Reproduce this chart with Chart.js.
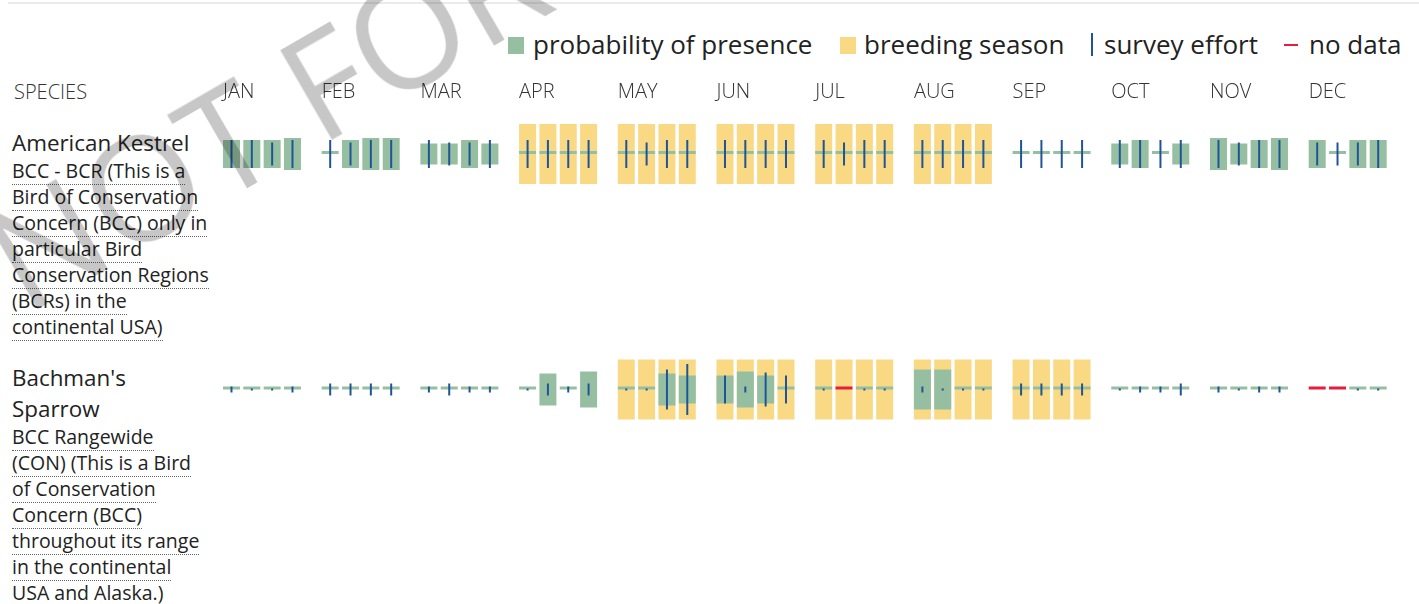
<!DOCTYPE html>
<html>
<head>
<meta charset="utf-8">
<title>Probability of presence</title>
<script src="https://cdn.jsdelivr.net/npm/chart.js@4.4.1/dist/chart.umd.min.js"></script>
<style>
  html, body { margin: 0; padding: 0; background: #fff; }
  body {
    width: 1419px; height: 604px; position: relative; overflow: hidden;
    font-family: 'Open Sans', sans-serif; color: #222;
  }
  #topRule { position: absolute; left: 8px; right: 0; top: 2px; height: 2px; background: #ebebeb; }
  #chartBox { position: absolute; left: 0; top: 0; width: 1419px; height: 604px; }

  /* legend */
  .lg { position: absolute; }
  .lg-text { top: 28px; font-size: 26px; line-height: 32px; white-space: nowrap; color: #222; }
  .lg-box { top: 37px; width: 16px; height: 17px; }
  .lg-vline { top: 33px; width: 2px; height: 23px; }
  .lg-hline { top: 44px; width: 14px; height: 2px; }

  .colHead { position: absolute; left: 14px; top: 78px; font-size: 20px; font-weight: 300; color: #333; }

  .species { position: absolute; left: 12px; width: 210px; }
  .species .name { font-size: 22.4px; line-height: 31px; }
  .species .desc { font-size: 19.5px; line-height: 26px; }
  .species .desc span { border-bottom: 1px dotted #666; }

  .watermark {
    position: absolute; left: -52px; top: 182px; transform-origin: 0 0;
    transform: rotate(-30deg); font-size: 145px; letter-spacing: 0;
    color: rgba(0, 0, 0, 0.22); white-space: nowrap; pointer-events: none;
  }
</style>
</head>
<body>
<div id="topRule"></div>

<div class="lg lg-box" style="left:508px;background:#96bfa2"></div>
<div class="lg lg-text" style="left:533px">probability of presence</div>
<div class="lg lg-box" style="left:840px;background:#fad985"></div>
<div class="lg lg-text" style="left:864px">breeding season</div>
<div class="lg lg-vline" style="left:1091px;background:#1f5597"></div>
<div class="lg lg-text" style="left:1104px">survey effort</div>
<div class="lg lg-hline" style="left:1284px;background:#e41e3c"></div>
<div class="lg lg-text" style="left:1309px">no data</div>

<div class="colHead">SPECIES</div>

<div class="species" style="top:127px">
  <div class="name">American Kestrel</div>
  <div class="desc">
    <span>BCC - BCR (This is a</span><br>
    <span>Bird of Conservation</span><br>
    <span>Concern (BCC) only in</span><br>
    <span>particular Bird</span><br>
    <span>Conservation Regions</span><br>
    <span>(BCRs) in the</span><br>
    <span>continental USA)</span>
  </div>
</div>

<div class="species" style="top:362px">
  <div class="name">Bachman's<br>Sparrow</div>
  <div class="desc">
    <span>BCC Rangewide</span><br>
    <span>(CON) (This is a Bird</span><br>
    <span>of Conservation</span><br>
    <span>Concern (BCC)</span><br>
    <span>throughout its range</span><br>
    <span>in the continental</span><br>
    <span>USA and Alaska.)</span>
  </div>
</div>

<div id="chartBox"><canvas id="presenceChart"></canvas></div>

<div class="watermark">NOT FOR CONSULTATION</div>

<script>
'use strict';

// ─── DATA ────────────────────────────────────────────────────

const MONTHS = ['JAN','FEB','MAR','APR','MAY','JUN','JUL','AUG','SEP','OCT','NOV','DEC'];
const WEEKS_PER_MONTH = 4;

// probability of presence per week, as a share of the row band (null = no data)
const KESTREL_PRESENCE = [
  0.47, 0.47, 0.47, 0.53,   // JAN
  0,    0.47, 0.53, 0.53,   // FEB
  0.35, 0.35, 0.47, 0.35,   // MAR
  0, 0, 0, 0,               // APR
  0, 0, 0, 0,               // MAY
  0, 0, 0, 0,               // JUN
  0, 0, 0, 0,               // JUL
  0, 0, 0, 0,               // AUG
  0, 0, 0, 0,               // SEP
  0.35, 0.47, 0,    0.35,   // OCT
  0.53, 0.35, 0.47, 0.53,   // NOV
  0.47, 0,    0.47, 0.47    // DEC
];
const KESTREL_EFFORT = [
  0.47, 0.47, 0.38, 0.47,
  0.47, 0.38, 0.47, 0.47,
  0.47, 0.38, 0.38, 0.47,
  0.47, 0.47, 0.47, 0.47,
  0.47, 0.38, 0.47, 0.47,
  0.47, 0.47, 0.47, 0.47,
  0.47, 0.38, 0.47, 0.47,
  0.47, 0.47, 0.47, 0.47,
  0.47, 0.47, 0.47, 0.47,
  0.47, 0.47, 0.47, 0.47,
  0.47, 0.38, 0.47, 0.47,
  0.38, 0.38, 0.38, 0.47
];
const KESTREL_BREEDING = ['APR','MAY','JUN','JUL','AUG'];

const SPARROW_PRESENCE = [
  0, 0, 0, 0,               // JAN
  0, 0, 0, 0,               // FEB
  0, 0, 0, 0,               // MAR
  0, 0.53, 0, 0.6,          // APR
  0, 0, 0.53, 0.47,         // MAY
  0.47, 0.6, 0.47, 0,       // JUN
  0, null, 0, 0,            // JUL
  0.67, 0.67, 0, 0,         // AUG
  0, 0, 0, 0,               // SEP
  0, 0, 0, 0,               // OCT
  0, 0, 0, 0,               // NOV
  null, null, 0, 0          // DEC
];
const SPARROW_EFFORT = [
  0.1,  0.03, 0.03, 0.1,
  0.2,  0.2,  0.2,  0.2,
  0.1,  0.2,  0.1,  0.1,
  0.03, 0.2,  0.1,  0.2,
  0.03, 0.03, 0.67, 0.85,
  0.47, 0.1,  0.57, 0.47,
  0.03, null, 0.03, 0.03,
  0.1,  0.03, 0.03, 0.03,
  0.2,  0.2,  0.2,  0.2,
  0.03, 0.1,  0.1,  0.2,
  0.1,  0.03, 0.1,  0.1,
  null, null, 0.03, 0.03
];
const SPARROW_BREEDING = ['MAY','JUN','JUL','AUG','SEP'];

const ROWS = [
  { presence: KESTREL_PRESENCE, effort: KESTREL_EFFORT, breeding: KESTREL_BREEDING },
  { presence: SPARROW_PRESENCE, effort: SPARROW_EFFORT, breeding: SPARROW_BREEDING }
];

// ─── LAYOUT ──────────────────────────────────────────────────

const COLORS = {
  presence: '#96bfa2',
  breeding: '#fad985',
  effort:   '#1f5597',
  noData:   '#e41e3c'
};

const BAND_PX = 60;                 // height of a row band
const PLOT_TOP = 110, PLOT_BOTTOM = 604;
const ROW_CENTER_PX = [154, 389.5];
const WEEK_START = 0.086, WEEK_STEP = 0.206;   // week centres inside a month (month = 1 unit)

const weekX = i => Math.floor(i / WEEKS_PER_MONTH) + WEEK_START + (i % WEEKS_PER_MONTH) * WEEK_STEP;
const rowCenter = r => (ROW_CENTER_PX[r] - PLOT_TOP) / BAND_PX;

function span(c, v) {
  return [c - v / 2, c + v / 2];
}

// ─── BUILD DATASETS ──────────────────────────────────────────

const breedingPts = [], presencePts = [], noDataPts = [], effortPts = [];

ROWS.forEach((row, r) => {
  const c = rowCenter(r);
  row.presence.forEach((p, i) => {
    const x = weekX(i);
    const month = MONTHS[Math.floor(i / WEEKS_PER_MONTH)];
    if (row.breeding.includes(month)) breedingPts.push({ x, y: span(c, 1) });
    if (p === null) noDataPts.push({ x, y: [c, c] });
    else presencePts.push({ x, y: span(c, p) });
    const e = row.effort[i];
    if (e !== null) effortPts.push({ x, y: span(c, e) });
  });
});

const barBase = {
  grouped: false,
  borderWidth: 0,
  borderSkipped: false,
  inflateAmount: 0
};

new Chart(document.getElementById('presenceChart'), {
  type: 'bar',
  data: {
    datasets: [
      { ...barBase, label: 'survey effort', data: effortPts, backgroundColor: COLORS.effort,
        barThickness: 2, minBarLength: 2, order: 0 },
      { ...barBase, label: 'no data', data: noDataPts, backgroundColor: COLORS.noData,
        barThickness: 17, minBarLength: 3, order: 1 },
      { ...barBase, label: 'probability of presence', data: presencePts, backgroundColor: COLORS.presence,
        barThickness: 17, minBarLength: 3, order: 2 },
      { ...barBase, label: 'breeding season', data: breedingPts, backgroundColor: COLORS.breeding,
        barThickness: 17, order: 3 }
    ]
  },
  options: {
    responsive: true,
    maintainAspectRatio: false,
    animation: false,
    events: [],
    layout: { padding: { left: 223, right: 11.6, top: 70, bottom: 0 } },
    plugins: {
      legend: { display: false },
      tooltip: { enabled: false }
    },
    scales: {
      x: {
        type: 'linear',
        position: 'top',
        min: 0,
        max: MONTHS.length,
        offset: false,
        grid: { display: false, drawTicks: false },
        border: { display: false },
        afterBuildTicks: scale => { scale.ticks = MONTHS.map((_, i) => ({ value: i })); },
        afterFit: scale => { scale.height = PLOT_TOP - 70; },
        ticks: {
          align: 'start',
          autoSkip: false,
          maxRotation: 0,
          padding: 6,
          color: '#333',
          font: { family: "'Open Sans', sans-serif", size: 20, weight: 300 },
          callback: v => MONTHS[v]
        }
      },
      y: {
        type: 'linear',
        display: false,
        reverse: true,
        min: 0,
        max: (PLOT_BOTTOM - PLOT_TOP) / BAND_PX
      }
    }
  }
});
</script>
</body>
</html>
